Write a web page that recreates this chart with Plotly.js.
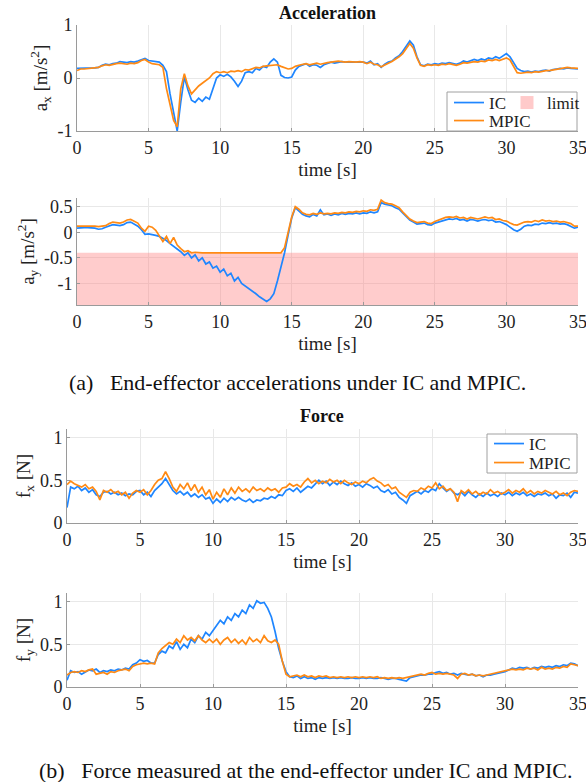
<!DOCTYPE html>
<html>
<head>
<meta charset="utf-8">
<script src="https://cdn.plot.ly/plotly-3.0.1.min.js"></script>
<style>
html,body{margin:0;padding:0;background:#fff;}
#chart{width:586px;height:782px;}
</style>
</head>
<body>
<div id="chart"></div>
<script>
// ---------- DATA (sampled every 0.25 s, 0 .. 35 s) ----------
const timeStep = 0.25;
const timeCount = 141;
const time = [];
for (let i = 0; i < timeCount; i++) time.push(+(i * timeStep).toFixed(2));

const ax_IC = [
  0.18,0.18,0.18,0.18,0.19,0.19,0.20,0.24,0.26,0.25,0.27,0.28,0.31,0.30,0.29,0.31,0.30,0.32,0.35,0.37,
  0.33,0.32,0.30,0.30,0.24,0.12,-0.30,-0.68,-1.00,-0.45,0.02,-0.22,-0.42,-0.46,-0.38,-0.44,-0.36,-0.40,-0.20,0.00,
  0.06,0.03,0.07,0.02,-0.06,-0.16,-0.06,0.10,0.12,0.10,0.18,0.15,0.22,0.20,0.30,0.36,0.30,0.05,0.01,0.00,
  0.02,0.15,0.22,0.25,0.27,0.22,0.25,0.24,0.20,0.25,0.27,0.30,0.28,0.30,0.31,0.30,0.30,0.29,0.30,0.30,
  0.30,0.28,0.32,0.25,0.27,0.20,0.26,0.30,0.32,0.38,0.42,0.50,0.60,0.70,0.62,0.40,0.25,0.23,0.26,0.25,
  0.27,0.26,0.28,0.27,0.29,0.28,0.26,0.28,0.32,0.30,0.33,0.35,0.33,0.36,0.34,0.38,0.36,0.40,0.37,0.42,
  0.46,0.40,0.28,0.18,0.14,0.12,0.13,0.11,0.13,0.12,0.14,0.15,0.13,0.16,0.17,0.18,0.17,0.19,0.18,0.17,
  0.17
];
const ax_MPIC = [
  0.14,0.17,0.17,0.18,0.18,0.19,0.20,0.23,0.25,0.24,0.26,0.27,0.28,0.27,0.26,0.28,0.27,0.29,0.33,0.35,
  0.30,0.27,0.26,0.25,0.20,-0.20,-0.50,-0.80,-0.92,-0.20,0.08,-0.15,-0.30,-0.22,-0.15,-0.10,-0.05,0.00,0.08,0.12,
  0.10,0.12,0.10,0.13,0.12,0.14,0.12,0.16,0.15,0.18,0.20,0.19,0.22,0.23,0.24,0.25,0.25,0.22,0.20,0.17,
  0.18,0.22,0.24,0.26,0.27,0.25,0.27,0.28,0.26,0.28,0.29,0.30,0.31,0.32,0.31,0.30,0.31,0.30,0.30,0.31,
  0.30,0.27,0.30,0.26,0.25,0.21,0.25,0.28,0.31,0.35,0.40,0.46,0.55,0.65,0.56,0.38,0.24,0.22,0.25,0.24,
  0.25,0.24,0.26,0.25,0.27,0.25,0.24,0.26,0.29,0.28,0.30,0.31,0.30,0.32,0.31,0.34,0.33,0.35,0.33,0.36,
  0.38,0.34,0.22,0.10,0.09,0.10,0.11,0.10,0.12,0.11,0.13,0.14,0.14,0.15,0.17,0.18,0.19,0.20,0.19,0.18,
  0.18
];
const ay_IC = [
  0.08,0.09,0.09,0.09,0.09,0.08,0.06,0.07,0.10,0.13,0.15,0.14,0.13,0.15,0.19,0.20,0.16,0.12,0.05,-0.04,
  -0.03,-0.04,-0.06,-0.08,-0.12,-0.16,-0.22,-0.27,-0.33,-0.38,-0.45,-0.40,-0.50,-0.44,-0.56,-0.50,-0.62,-0.58,-0.70,-0.66,
  -0.78,-0.72,-0.85,-0.80,-0.95,-0.88,-1.00,-1.05,-1.10,-1.14,-1.20,-1.26,-1.30,-1.35,-1.30,-1.20,-0.95,-0.70,-0.40,-0.05,
  0.28,0.48,0.42,0.35,0.32,0.30,0.35,0.32,0.44,0.34,0.36,0.33,0.36,0.34,0.37,0.35,0.37,0.36,0.38,0.36,
  0.38,0.37,0.40,0.38,0.40,0.58,0.55,0.53,0.52,0.48,0.45,0.38,0.30,0.24,0.20,0.16,0.17,0.18,0.15,0.14,
  0.18,0.20,0.23,0.25,0.26,0.25,0.27,0.24,0.25,0.22,0.25,0.24,0.22,0.24,0.25,0.23,0.24,0.20,0.21,0.18,
  0.15,0.10,0.05,0.02,0.06,0.12,0.14,0.13,0.16,0.15,0.18,0.17,0.19,0.17,0.18,0.16,0.17,0.15,0.12,0.08,
  0.10
];
const ay_MPIC = [
  0.12,0.12,0.13,0.13,0.13,0.12,0.11,0.12,0.13,0.17,0.20,0.19,0.18,0.20,0.24,0.25,0.22,0.18,0.08,0.02,
  0.12,0.10,0.04,-0.06,-0.18,-0.08,-0.22,-0.10,-0.25,-0.32,-0.38,-0.36,-0.40,-0.39,-0.40,-0.40,-0.40,-0.40,-0.40,-0.40,
  -0.40,-0.40,-0.40,-0.40,-0.40,-0.40,-0.40,-0.40,-0.40,-0.40,-0.40,-0.40,-0.40,-0.40,-0.40,-0.40,-0.40,-0.40,-0.30,-0.02,
  0.30,0.50,0.45,0.38,0.35,0.34,0.37,0.35,0.38,0.36,0.37,0.36,0.38,0.37,0.39,0.38,0.40,0.39,0.41,0.40,
  0.42,0.41,0.44,0.43,0.45,0.63,0.58,0.56,0.55,0.52,0.48,0.40,0.32,0.26,0.22,0.19,0.20,0.21,0.18,0.17,
  0.21,0.24,0.27,0.29,0.30,0.29,0.31,0.28,0.29,0.26,0.29,0.28,0.26,0.28,0.30,0.28,0.29,0.25,0.26,0.23,
  0.22,0.18,0.15,0.14,0.17,0.20,0.21,0.20,0.23,0.21,0.24,0.22,0.23,0.21,0.22,0.20,0.21,0.19,0.17,0.12,
  0.12
];
const ay_limit = -0.4;
const ay_bottom = -1.42;

const fx_IC = [
  0.18,0.42,0.40,0.43,0.38,0.41,0.36,0.39,0.33,0.31,0.36,0.37,0.34,0.36,0.33,0.35,0.32,0.34,0.33,0.37,
  0.38,0.33,0.36,0.31,0.38,0.42,0.46,0.52,0.45,0.38,0.34,0.37,0.33,0.36,0.31,0.34,0.30,0.33,0.28,0.30,
  0.23,0.28,0.24,0.29,0.25,0.30,0.27,0.30,0.27,0.25,0.28,0.24,0.27,0.26,0.29,0.28,0.31,0.29,0.33,0.32,
  0.38,0.40,0.37,0.41,0.36,0.40,0.43,0.41,0.46,0.50,0.46,0.49,0.44,0.48,0.45,0.49,0.46,0.44,0.47,0.43,
  0.45,0.42,0.46,0.44,0.41,0.43,0.38,0.36,0.39,0.34,0.36,0.30,0.27,0.23,0.32,0.35,0.37,0.34,0.38,0.36,
  0.40,0.38,0.46,0.41,0.37,0.40,0.35,0.33,0.36,0.32,0.37,0.33,0.30,0.34,0.31,0.35,0.32,0.34,0.31,0.35,
  0.33,0.36,0.32,0.35,0.33,0.36,0.32,0.34,0.31,0.34,0.33,0.35,0.32,0.34,0.29,0.33,0.32,0.35,0.30,0.36,
  0.35
];
const fx_MPIC = [
  0.45,0.49,0.46,0.44,0.42,0.45,0.40,0.42,0.37,0.27,0.38,0.36,0.39,0.35,0.37,0.33,0.36,0.29,0.35,0.38,
  0.36,0.39,0.33,0.38,0.45,0.50,0.52,0.60,0.52,0.42,0.37,0.45,0.40,0.47,0.38,0.45,0.36,0.42,0.33,0.39,
  0.28,0.36,0.30,0.40,0.33,0.41,0.35,0.42,0.37,0.40,0.36,0.42,0.38,0.40,0.37,0.41,0.38,0.40,0.36,0.41,
  0.42,0.46,0.43,0.45,0.42,0.48,0.52,0.47,0.50,0.46,0.49,0.47,0.51,0.48,0.50,0.46,0.50,0.47,0.45,0.48,
  0.46,0.49,0.47,0.51,0.53,0.49,0.47,0.43,0.45,0.40,0.42,0.36,0.33,0.30,0.36,0.38,0.37,0.41,0.39,0.43,
  0.41,0.47,0.40,0.43,0.38,0.40,0.36,0.25,0.38,0.35,0.39,0.34,0.37,0.33,0.36,0.34,0.39,0.35,0.37,0.34,
  0.36,0.39,0.35,0.38,0.36,0.40,0.35,0.38,0.34,0.37,0.35,0.38,0.36,0.34,0.37,0.33,0.35,0.32,0.36,0.38,
  0.37
];
const fy_IC = [
  0.08,0.19,0.17,0.18,0.15,0.18,0.20,0.19,0.21,0.17,0.19,0.18,0.20,0.19,0.21,0.20,0.22,0.21,0.26,0.28,
  0.32,0.30,0.31,0.28,0.28,0.38,0.42,0.40,0.48,0.45,0.53,0.44,0.50,0.46,0.56,0.52,0.60,0.56,0.64,0.60,
  0.66,0.72,0.78,0.74,0.82,0.78,0.86,0.82,0.90,0.86,0.96,0.92,1.01,0.98,0.99,0.92,0.82,0.65,0.45,0.30,
  0.18,0.12,0.11,0.13,0.10,0.12,0.10,0.11,0.09,0.11,0.10,0.11,0.10,0.11,0.10,0.11,0.10,0.10,0.11,0.10,
  0.10,0.11,0.10,0.11,0.10,0.10,0.11,0.10,0.09,0.10,0.10,0.09,0.08,0.07,0.11,0.12,0.13,0.14,0.14,0.15,
  0.15,0.17,0.18,0.16,0.17,0.15,0.16,0.14,0.16,0.15,0.14,0.15,0.13,0.14,0.12,0.14,0.14,0.15,0.16,0.17,
  0.18,0.20,0.22,0.21,0.23,0.22,0.23,0.21,0.23,0.22,0.24,0.23,0.24,0.23,0.25,0.24,0.26,0.25,0.28,0.27,
  0.25
];
const fy_MPIC = [
  0.14,0.17,0.18,0.17,0.19,0.18,0.20,0.21,0.15,0.16,0.17,0.15,0.18,0.17,0.19,0.20,0.21,0.19,0.24,0.26,
  0.27,0.28,0.27,0.28,0.27,0.40,0.45,0.48,0.52,0.50,0.56,0.52,0.60,0.55,0.58,0.54,0.60,0.55,0.52,0.56,
  0.52,0.56,0.50,0.55,0.58,0.52,0.56,0.51,0.55,0.50,0.58,0.53,0.56,0.52,0.60,0.54,0.52,0.55,0.50,0.30,
  0.15,0.12,0.13,0.14,0.12,0.14,0.12,0.13,0.11,0.13,0.12,0.13,0.11,0.12,0.11,0.12,0.11,0.12,0.11,0.12,
  0.11,0.12,0.11,0.12,0.11,0.12,0.10,0.11,0.10,0.11,0.10,0.11,0.10,0.11,0.12,0.13,0.14,0.15,0.14,0.16,
  0.17,0.15,0.16,0.15,0.16,0.15,0.14,0.10,0.15,0.16,0.14,0.15,0.13,0.14,0.13,0.14,0.15,0.16,0.17,0.18,
  0.19,0.20,0.21,0.20,0.21,0.20,0.22,0.21,0.22,0.20,0.23,0.21,0.22,0.21,0.23,0.22,0.24,0.23,0.27,0.26,
  0.25
];

const xTicks = [0,5,10,15,20,25,30,35];
const axTicks = [-1,0,1];
const axTickText = ['-1','0','1'];
const ayTicks = [-1,-0.5,0,0.5];
const ayTickText = ['-1','-0.5','0','0.5'];
const fTicks = [0,0.5,1];
const fTickText = ['0','0.5','1'];

// ---------- STYLE ----------
const W = 586, H = 782;
const FONT = '"Liberation Serif", "Times New Roman", serif';
const BLUE = '#1f86ff';
const ORANGE = '#ff8a14';
const px = v => v / W;
const py = v => 1 - v / H;

function xAxis(anchor, dom) {
  return {
    domain: dom, anchor: anchor, range: [0, 35], tickvals: xTicks,
    showgrid: true, gridcolor: '#e8e8e8', gridwidth: 1, zeroline: false,
    showline: true, linecolor: '#9a9a9a', linewidth: 1,
    ticks: 'inside', ticklen: 3, tickcolor: '#9a9a9a',
    ticklabeloverflow: 'allow',
    tickfont: {family: FONT, size: 18, color: '#222'},
    title: {text: 'time [s]', font: {family: FONT, size: 19, color: '#222'}, standoff: 6}
  };
}
function yAxis(anchor, dom, range, tv, tt, title) {
  return {
    domain: dom, anchor: anchor, range: range, tickvals: tv, ticktext: tt,
    showgrid: true, gridcolor: '#e8e8e8', gridwidth: 1, zeroline: false,
    showline: true, linecolor: '#9a9a9a', linewidth: 1,
    ticks: 'inside', ticklen: 3, tickcolor: '#9a9a9a',
    ticklabeloverflow: 'allow',
    tickfont: {family: FONT, size: 18, color: '#222'},
    title: {text: title, font: {family: FONT, size: 19, color: '#222'}, standoff: 4}
  };
}

const xd1 = [px(77), px(578)];
const xd3 = [px(67), px(578)];

const traces = [
  // panel 1
  {x: time, y: ax_IC, xaxis: 'x', yaxis: 'y', mode: 'lines', name: 'IC',
   line: {color: BLUE, width: 1.7}, legend: 'legend'},
  {x: time, y: ax_MPIC, xaxis: 'x', yaxis: 'y', mode: 'lines', name: 'MPIC',
   line: {color: ORANGE, width: 1.7}, legend: 'legend3'},
  {x: [null], y: [null], xaxis: 'x', yaxis: 'y', mode: 'markers', name: 'limit',
   marker: {symbol: 'square', size: 13, color: '#ffcaca'}, legend: 'legend2'},
  // panel 2
  {x: [0, 35, 35, 0], y: [ay_limit, ay_limit, ay_bottom, ay_bottom], xaxis: 'x2', yaxis: 'y2',
   mode: 'lines', fill: 'toself', fillcolor: 'rgba(255,120,120,0.38)', line: {width: 0},
   showlegend: false, hoverinfo: 'skip'},
  {x: time, y: ay_IC, xaxis: 'x2', yaxis: 'y2', mode: 'lines', name: 'IC',
   line: {color: BLUE, width: 1.7}, showlegend: false},
  {x: time, y: ay_MPIC, xaxis: 'x2', yaxis: 'y2', mode: 'lines', name: 'MPIC',
   line: {color: ORANGE, width: 1.7}, showlegend: false},
  // panel 3
  {x: time, y: fx_IC, xaxis: 'x3', yaxis: 'y3', mode: 'lines', name: 'IC',
   line: {color: BLUE, width: 1.7}, legend: 'legend4'},
  {x: time, y: fx_MPIC, xaxis: 'x3', yaxis: 'y3', mode: 'lines', name: 'MPIC',
   line: {color: ORANGE, width: 1.7}, legend: 'legend5'},
  // panel 4
  {x: time, y: fy_IC, xaxis: 'x4', yaxis: 'y4', mode: 'lines', name: 'IC',
   line: {color: BLUE, width: 1.7}, showlegend: false},
  {x: time, y: fy_MPIC, xaxis: 'x4', yaxis: 'y4', mode: 'lines', name: 'MPIC',
   line: {color: ORANGE, width: 1.7}, showlegend: false}
];

const legFont = {family: FONT, size: 17, color: '#222'};
function leg(xl, yc) {
  return {x: px(xl), y: py(yc), xanchor: 'left', yanchor: 'middle', bgcolor: 'rgba(0,0,0,0)',
          borderwidth: 0, font: legFont, itemwidth: 30, tracegroupgap: 0};
}
const layout = {
  width: W, height: H,
  margin: {l: 0, r: 0, t: 0, b: 0},
  paper_bgcolor: '#fff', plot_bgcolor: '#fff',
  showlegend: true,
  xaxis: xAxis('y', xd1),
  yaxis: yAxis('x', [py(131), py(25)], [-1, 1], axTicks, axTickText, 'a<sub>x</sub> [m/s<sup>2</sup>]'),
  xaxis2: xAxis('y2', xd1),
  yaxis2: yAxis('x2', [py(305), py(198)], [ay_bottom, 0.67], ayTicks, ayTickText, 'a<sub>y</sub> [m/s<sup>2</sup>]'),
  xaxis3: xAxis('y3', xd3),
  yaxis3: yAxis('x3', [py(523), py(429)], [0, 1.1], fTicks, fTickText, 'f<sub>x</sub> [N]'),
  xaxis4: xAxis('y4', xd3),
  yaxis4: yAxis('x4', [py(687), py(593)], [0, 1.1], fTicks, fTickText, 'f<sub>y</sub> [N]'),
  legend: leg(449, 103),
  legend2: leg(507, 103),
  legend3: leg(449, 121),
  legend4: leg(489, 444),
  legend5: leg(489, 463),
  shapes: [
    {type: 'rect', xref: 'paper', yref: 'paper', x0: px(447), x1: px(577), y0: py(131), y1: py(92),
     fillcolor: '#fff', line: {color: '#a0a0a0', width: 1}, layer: 'above'},
    {type: 'rect', xref: 'paper', yref: 'paper', x0: px(487), x1: px(577), y0: py(473), y1: py(434),
     fillcolor: '#fff', line: {color: '#a0a0a0', width: 1}, layer: 'above'}
  ],
  annotations: [
    {text: '<b>Acceleration</b>', xref: 'paper', yref: 'paper', x: px(327), y: py(13),
     xanchor: 'center', yanchor: 'middle', showarrow: false, font: {family: FONT, size: 18, color: '#111'}},
    {text: '<b>Force</b>', xref: 'paper', yref: 'paper', x: px(322), y: py(416),
     xanchor: 'center', yanchor: 'middle', showarrow: false, font: {family: FONT, size: 18, color: '#111'}},
    {text: '(a)\u00a0\u00a0 End-effector accelerations under IC and MPIC.', xref: 'paper', yref: 'paper',
     x: px(297), y: py(382), xanchor: 'center', yanchor: 'middle', showarrow: false,
     font: {family: FONT, size: 22, color: '#111'}},
    {text: '(b)\u00a0\u00a0 Force measured at the end-effector under IC and MPIC.', xref: 'paper', yref: 'paper',
     x: px(306), y: py(770), xanchor: 'center', yanchor: 'middle', showarrow: false,
     font: {family: FONT, size: 22, color: '#111'}}
  ]
};

Plotly.newPlot('chart', traces, layout, {staticPlot: true, displayModeBar: false});
</script>
</body>
</html>
